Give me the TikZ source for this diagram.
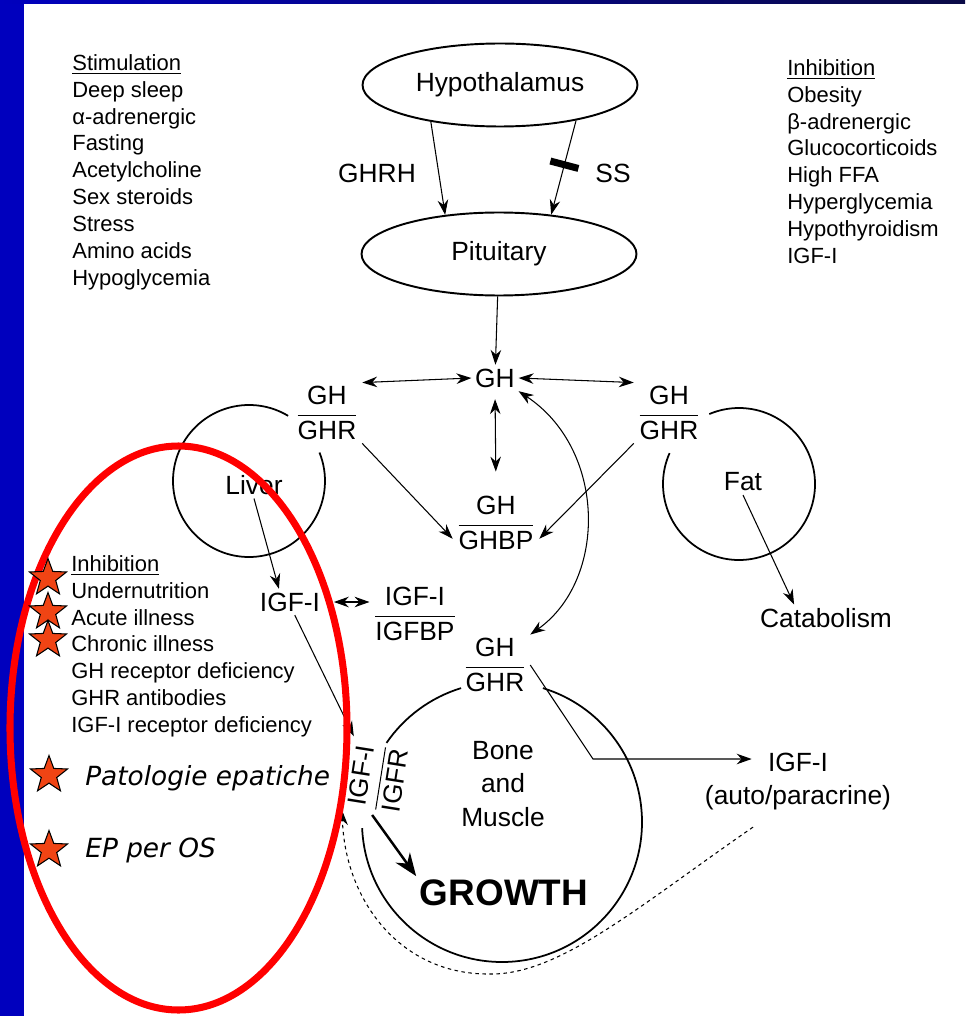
\documentclass[tikz,border=0pt]{standalone}
\usepackage{amsmath}
\usepackage{fontspec}
\setmainfont{Liberation Sans}
\newfontfamily\handfont{DejaVu Sans}
\usetikzlibrary{arrows.meta,calc,shapes.geometric}

\definecolor{slideblue}{RGB}{0,0,190}
\definecolor{slidenavy}{RGB}{10,10,70}
\definecolor{starred}{RGB}{240,68,20}

\newcommand{\ratio}[2]{$\dfrac{\text{#1}}{\text{#2}}$}

\tikzset{
  lbl/.style={font=\fontsize{15}{19.3}\selectfont, inner sep=2pt},
  lst/.style={font=\fontsize{12.5}{15.3}\selectfont, align=left, anchor=north west, inner sep=0pt},
  gland/.style={lbl, draw, ellipse, line width=1.1pt, minimum width=5.5cm, minimum height=1.66cm},
  arr/.style={-{Stealth[length=8.5pt,width=6pt]}, line width=0.6pt},
  arrs/.style={{Stealth[length=8.5pt,width=6pt]}-{Stealth[length=8.5pt,width=6pt]}, line width=0.6pt},
  tissue/.style={line width=1pt},
  badge/.style={star, star points=5, star point ratio=2.4, minimum size=0.78cm, inner sep=0pt,
    fill=starred, draw=black, line width=0.6pt},
  hand/.style={font=\handfont\itshape\fontsize{15}{18}\selectfont, anchor=west, inner sep=0pt},
}

\begin{document}
\begin{tikzpicture}[x=0.02cm,y=-0.02cm]
  \useasboundingbox (0,0) rectangle (965,1016);
  \fill[white] (0,0) rectangle (965,1016);
  \fill[slideblue] (0,0) rectangle (24,1016);
  \shade[left color=slideblue, right color=slidenavy] (0,0) rectangle (965,4);

  % axis
  \node[gland] (hyp) at (500,85) {Hypothalamus};
  \node[gland] (pit) at (499,254) {Pituitary};
  \node[lbl] (ghrh) at (377,173) {GHRH};
  \node[lbl] (ss) at (613,173) {SS};

  \node[lst] (stim) at (72,54) {\underline{Stimulation}\\Deep sleep\\α-adrenergic\\Fasting\\Acetylcholine\\Sex steroids\\Stress\\Amino acids\\Hypoglycemia};
  \node[lst] (inhib) at (787,59) {\underline{Inhibition}\\Obesity\\β-adrenergic\\Glucocorticoids\\High FFA\\Hyperglycemia\\Hypothyroidism\\IGF-I};

  % GH and receptors
  \node[lbl] (gh) at (495,378) {GH};
  \node[lbl] (ghrL) at (327,413) {\ratio{GH}{GHR}};
  \node[lbl] (ghrR) at (669,413) {\ratio{GH}{GHR}};
  \node[lbl] (ghbp) at (496,523) {\ratio{GH}{GHBP}};

  % tissues
  \node[lbl] (liver) at (254,485) {Liver};
  \node[lbl] (fat) at (743,482) {Fat};
  \draw[tissue] ($(249,481)+(-59:76)$) arc[start angle=-59,end angle=-382,radius=76];
  \draw[tissue] ($(739,484)+(-156:76)$) arc[start angle=-156,end angle=-473,radius=76];
  \draw[tissue] ($(502,822)+(-107:140)$) arc[start angle=-107,end angle=-145.6,radius=140];
  \draw[tissue] ($(502,822)+(-182.5:140)$) arc[start angle=-182.5,end angle=-433,radius=140];

  \node[lbl, align=center] (bone) at (503,784) {Bone\\and\\Muscle};
  \node[lbl] (ghrB) at (495,665) {\ratio{GH}{GHR}};
  \node[lbl, rotate=81] (igfr) at (378,778) {\ratio{IGF-I}{IGFR}};
  \node[font=\bfseries\fontsize{21}{25}\selectfont, inner sep=2pt] (growth) at (504,893) {GROWTH};

  \node[lbl] (igfL) at (290,602) {IGF-I};
  \node[lbl] (igfbp) at (415,614) {\ratio{IGF-I}{IGFBP}};
  \node[lbl] (catab) at (826,618) {Catabolism};
  \node[lbl] (igfRt) at (798,762) {IGF-I};
  \node[lbl] (para) at (798,798) {(auto/paracrine)};

  % arrows
  \draw[arr] (hyp.208) -- (pit.144);
  \draw[arr] (hyp.335) -- node[pos=0.47, sloped, fill=black, inner sep=0pt,
    minimum width=0.14cm, minimum height=0.58cm] (ssbar) {} (pit.37);
  \draw[arr] (pit) -- (gh);
  \draw[arrs] (ghrL.north east) -- (gh.west);
  \draw[arrs] (gh.east) -- (ghrR.north west);
  \draw[arrs, shorten <=0.16cm, shorten >=0.42cm] (gh.south) -- (ghbp.north);
  \draw[arr] (ghrL.south east) -- (ghbp.200);
  \draw[arr] (ghrR.south west) -- (ghbp.340);
  \draw[arrs] (gh.south east) .. controls (607,450) and (607,580) .. (ghrB.north east);
  \draw[arr] (liver.south) -- (igfL.130);
  \draw[arrs, shorten <=0.2cm] (igfL.east) -- (igfL.east -| igfbp.west);
  \draw[arr] (fat.south) -- (catab.157);
  \draw[arr] (igfL.-70) -- (igfr.north east);
  \draw[line width=1.4pt, -{Stealth[length=13pt,width=10pt]}] (igfr.west) -- (growth.north west);
  \coordinate (knee) at (593,759);
  \draw[arr, shorten >=0.25cm] (ghrB.east) -- (knee) -- (knee -| igfRt.west);
  \draw[arr, dash pattern=on 2pt off 2pt] ($(para.south)+(-45,13)$)
    .. controls (640,905) and (560,975) .. (490,974)
    .. controls (400,975) and (345,900) .. (igfr.north west);

  % overlay
  \draw[red, line width=4pt] (178.5,728) ellipse[x radius=168.5, y radius=282];
  \node[lst] (inhibL) at (71,555) {\underline{Inhibition}\\Undernutrition\\Acute illness\\Chronic illness\\GH receptor deficiency\\GHR antibodies\\IGF-I receptor deficiency};
  \node[badge] (s1) at (48,578) {};
  \node[badge] (s2) at (48,612) {};
  \node[badge] (s3) at (48,640) {};
  \node[badge] (s4) at (49,775) {};
  \node[badge] (s5) at (49,850) {};
  \node[hand] (liverdis) at (85,778) {Patologie epatiche};
  \node[hand] (oral) at (85,850) {EP per OS};
\end{tikzpicture}
\end{document}
